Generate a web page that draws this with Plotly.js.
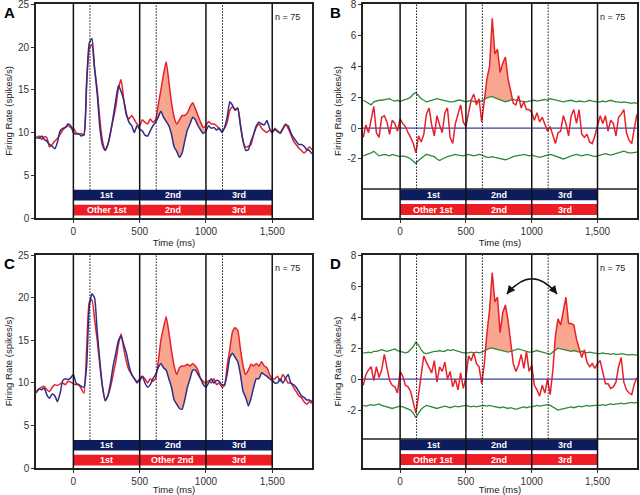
<!DOCTYPE html>
<html>
<head>
<meta charset="utf-8">
<script src="https://cdn.plot.ly/plotly-3.0.1.min.js"></script>
<style>
  html, body { margin: 0; padding: 0; background: #fff; }
  #fig { width: 640px; height: 495px; }
</style>
</head>
<body>
<div id="fig"></div>
<script>
// time base in ms, 20 ms bins from -280 to 1800
const timeMs = [];
for (let v = -280; v <= 1800; v += 20) timeMs.push(v);

const epochStart = [0, 500, 1000];
const epochEnd = [500, 1000, 1500];
const cueTimes = [125, 625, 1125];
const xTickVals = [0, 500, 1000, 1500];
const xTickText = ['0', '500', '1000', '1,500'];
const topBarLabels = ['1st', '2nd', '3rd'];
const bottomBarLabelsA = ['Other 1st', '2nd', '3rd'];
const bottomBarLabelsC = ['1st', 'Other 2nd', '3rd'];

// A: firing rate, red = other 1st, blue = 1st
const aRed = [
  9.3, 9.6, 9.2, 9.5, 9.4, 8.3, 8.6, 9.0, 9.3, 9.8, 10.3, 10.6, 10.8, 10.6, 10.5,
  10.0, 9.8, 9.9, 9.7, 15.5, 19.8, 20.3, 17.5, 15.0, 11.5, 9.0, 8.0, 8.6, 10.0, 11.5, 13.0, 15.2, 16.2, 13.8, 12.0, 11.6, 12.0, 11.5, 11.0, 10.8,
  11.5, 11.2, 11.0, 11.6, 11.2, 11.5, 13.2, 15.0, 16.8, 18.3, 16.0, 13.5, 11.8, 11.0, 11.5, 12.0, 12.0, 12.3, 13.0, 13.5, 12.8, 12.0, 11.2, 10.6, 10.8,
  11.3, 11.0, 11.0, 10.8, 10.5, 10.2, 10.5, 11.2, 12.6, 13.0, 12.7, 12.9, 11.0, 9.0, 8.3, 8.4, 8.6, 9.8, 10.6, 11.0, 10.5, 10.2, 10.0, 10.3, 10.0,
  10.5, 10.2, 10.0, 10.5, 11.0, 10.5, 9.8, 9.0, 8.6, 8.2, 7.9, 7.6, 7.9, 8.3, 8.0
];
const aBlue = [
  9.5, 9.3, 9.6, 9.2, 9.0, 8.6, 8.4, 8.1, 8.9, 10.2, 10.5, 10.6, 11.0, 10.8, 10.0,
  9.8, 9.9, 9.6, 9.8, 16.0, 20.5, 21.0, 17.5, 14.5, 10.5, 8.5, 7.9, 8.6, 10.0, 11.8, 13.8, 15.5, 14.8, 13.8, 12.2, 11.2, 10.8, 10.0, 10.8, 10.4,
  10.2, 9.7, 9.6, 10.2, 10.8, 11.2, 11.8, 12.5, 11.8, 11.3, 10.8, 9.8, 8.3, 7.8, 7.1, 7.6, 9.0, 10.3, 11.0, 11.8, 11.5, 10.8, 10.3, 9.9, 10.2,
  10.8, 10.5, 10.6, 10.3, 10.5, 10.0, 10.6, 11.8, 13.6, 13.2, 12.6, 12.8, 10.8, 9.0, 7.9, 8.0, 9.0, 9.8, 10.8, 11.2, 11.0, 10.9, 11.4, 10.5, 10.0,
  10.4, 10.1, 9.9, 10.4, 10.9, 10.8, 10.0, 9.4, 9.0, 8.6, 8.6, 8.4, 8.0, 7.9, 7.5
];

// B: difference with shuffled bounds
const bRed = [
  -0.6, 0.2, -0.3, 0.6, 1.4, -0.3, -0.6, 0.7, 0.8, 0.4, -0.4, 0.5, 0.3, -0.2, 0.6,
  0.3, 0.1, -0.3, -0.6, -1.0, -1.6, -0.5, -0.9, -0.4, 0.9, 1.3, 0.2, -0.5, 0.8, 0.2, -0.3, 1.0, 1.3, -0.6, -1.0, 0.3, 0.9, 1.5, 0.4, 0.1,
  1.0, 1.8, 2.2, 1.5, 1.9, 0.4, 1.8, 3.2, 4.0, 7.1, 4.8, 5.1, 3.6, 4.2, 4.6, 3.2, 2.4, 1.6, 1.5, 2.1, 1.3, 1.7, 1.2, 1.2, 1.0,
  0.5, 1.0, 0.4, 0.7, 0.3, -0.2, 0.1, -0.5, -1.0, -0.3, -0.2, 0.8, 0.3, -0.5, 0.8, 1.2, 0.3, 1.2, -0.4, -0.6, -0.4, -0.9, -1.0, -0.5, 0.2,
  0.8, 0.3, 0.8, -0.2, 0.5, 0.3, -0.5, 0.7, 0.9, 1.2, -0.3, -0.8, -1.0, 0.0, 0.9
];
const bUpper = [
  1.8, 1.7, 1.6, 1.5, 1.7, 1.75, 1.8, 1.8, 1.85, 1.9, 1.9, 1.8, 1.75, 1.8, 1.7,
  1.8, 1.85, 1.9, 2.0, 2.2, 2.3, 2.1, 1.9, 1.8, 1.7, 1.75, 1.8, 1.8, 1.9, 1.85, 1.8, 1.8, 1.75, 1.7, 1.7, 1.75, 1.8, 1.8, 1.75, 1.7,
  1.75, 1.8, 1.7, 1.75, 1.7, 1.75, 1.85, 1.95, 2.0, 2.05, 1.95, 1.9, 1.85, 1.75, 1.7, 1.75, 1.8, 1.85, 1.8, 1.8, 1.75, 1.7, 1.7, 1.75, 1.8,
  1.8, 1.75, 1.8, 1.8, 1.85, 1.8, 1.9, 1.85, 1.8, 1.8, 1.75, 1.7, 1.75, 1.8, 1.8, 1.75, 1.7, 1.75, 1.7, 1.7, 1.75, 1.8, 1.75, 1.7, 1.7,
  1.7, 1.75, 1.7, 1.75, 1.8, 1.75, 1.7, 1.7, 1.65, 1.7, 1.65, 1.6, 1.6, 1.65, 1.6
];
const bLower = [
  -1.8, -1.75, -1.7, -1.6, -1.5, -1.65, -1.8, -1.75, -1.7, -1.75, -1.8, -1.7, -1.75, -1.8, -1.85,
  -1.8, -1.85, -1.9, -2.0, -2.15, -2.3, -2.1, -1.95, -1.8, -1.7, -1.75, -1.8, -1.85, -2.0, -2.1, -2.0, -1.9, -1.85, -1.8, -1.75, -1.7, -1.75, -1.8, -1.8, -1.75,
  -1.7, -1.75, -1.8, -1.75, -1.7, -1.75, -1.85, -1.9, -1.9, -1.85, -1.9, -1.95, -2.0, -2.0, -2.05, -2.0, -1.9, -1.85, -1.8, -1.75, -1.75, -1.7, -1.75, -1.8, -1.75,
  -1.8, -1.85, -1.9, -1.85, -1.8, -1.75, -1.7, -1.75, -1.8, -1.85, -1.9, -2.0, -1.95, -1.85, -1.8, -1.75, -1.7, -1.75, -1.8, -1.75, -1.7, -1.75, -1.8, -1.85, -1.8,
  -1.75, -1.7, -1.65, -1.7, -1.75, -1.7, -1.65, -1.6, -1.55, -1.5, -1.55, -1.6, -1.6, -1.55, -1.55
];

// C: firing rate, red = other 2nd, blue = 2nd
const cRed = [
  8.8, 9.3, 9.5, 9.6, 9.2, 9.0, 9.5, 9.8, 9.7, 9.9, 10.0, 9.8, 10.2, 10.1, 9.9,
  9.8, 9.8, 9.3, 8.8, 14.0, 19.5, 19.8, 17.5, 15.0, 12.0, 9.5, 8.0, 8.5, 9.5, 11.0, 12.5, 14.5, 15.8, 14.0, 12.5, 11.5, 11.0, 10.5, 10.2, 10.2,
  10.8, 10.5, 10.0, 10.5, 10.2, 10.5, 12.5, 15.0, 16.5, 17.8, 16.0, 13.8, 12.0, 11.0, 11.8, 12.0, 12.0, 12.2, 12.0, 12.3, 12.0, 11.5, 10.5, 10.2, 10.0,
  10.3, 10.0, 10.5, 9.8, 10.0, 9.5, 9.7, 12.0, 14.0, 16.0, 16.5, 16.2, 14.0, 12.0, 11.0, 11.5, 12.2, 12.0, 12.3, 12.0, 12.5, 12.0, 11.8, 11.0, 10.5,
  10.5, 10.8, 10.2, 11.0, 10.5, 10.0, 10.0, 9.5, 9.0, 8.5, 8.3, 7.8, 7.5, 7.8, 7.6
];
const cBlue = [
  9.0, 9.3, 9.2, 9.4, 8.6, 8.2, 8.7, 8.5, 7.8, 8.8, 10.3, 10.5, 10.4, 10.6, 11.0,
  10.0, 9.8, 9.6, 9.5, 12.0, 19.0, 20.5, 20.0, 16.0, 12.5, 9.5, 7.9, 8.5, 10.0, 12.0, 13.5, 15.0, 15.5, 14.5, 13.5, 12.0, 11.0, 10.5, 10.0, 10.5,
  10.8, 10.0, 9.5, 9.8, 10.5, 11.0, 11.8, 12.3, 11.8, 11.5, 10.5, 9.5, 8.0, 7.5, 7.0, 6.9, 8.0, 9.5, 10.5, 11.5, 11.5, 11.0, 10.5, 9.8, 9.5,
  10.0, 10.5, 10.0, 10.3, 10.2, 9.8, 9.8, 11.0, 13.0, 13.5, 13.0, 12.5, 11.0, 9.0, 8.3, 7.3, 8.2, 9.5, 10.5, 10.5, 11.2, 11.0, 10.8, 10.5, 10.3,
  10.0, 10.0, 10.5, 10.0, 10.5, 11.0, 10.0, 9.8, 9.5, 9.0, 8.5, 8.3, 8.0, 8.0, 7.8
];

// D: difference with shuffled bounds
const dRed = [
  -0.4, 0.3, 0.6, 0.8, -0.1, 0.8, 0.1, 0.6, 1.6, 0.7, -0.1, -0.4, -0.5, -0.9, 0.5,
  0.2, -0.4, -0.5, -0.8, -1.5, -2.2, -1.0, 0.3, 1.5, 1.1, 0.7, 0.4, 1.2, -0.2, 0.8, 0.5, 1.1, 0.0, 0.5, -0.5, 0.0, -0.7, 0.4, -0.6, 0.1,
  1.5, 1.2, 1.7, 1.0, 0.8, -0.3, 1.0, 3.0, 4.5, 6.9, 5.0, 5.3, 3.0, 4.3, 4.8, 3.8, 2.2, 1.0, 0.5, 0.9, 1.6, 0.7, 1.8, 0.5, 0.9,
  -0.4, -0.7, -1.1, -0.4, -0.9, 0.0, -1.0, 0.5, 2.8, 3.9, 3.5, 4.4, 5.3, 3.6, 3.6, 3.5, 2.6, 2.0, 1.4, 1.9, 1.1, 0.8, 1.0, 0.7, 1.0,
  1.2, 0.5, -0.3, -0.3, -0.6, -0.5, -0.2, 0.8, 1.4, -0.2, -0.7, -0.9, -1.0, -0.3, 0.1
];
const dUpper = [
  1.7, 1.7, 1.75, 1.7, 1.8, 1.8, 1.85, 1.9, 1.85, 1.8, 1.85, 1.9, 1.95, 1.85, 1.8,
  1.7, 1.7, 1.75, 1.9, 2.1, 2.4, 2.2, 1.9, 1.7, 1.65, 1.7, 1.75, 1.8, 1.8, 1.85, 1.8, 1.8, 1.9, 1.85, 1.9, 1.85, 1.8, 1.75, 1.7, 1.7,
  1.7, 1.75, 1.7, 1.75, 1.7, 1.75, 1.85, 1.95, 2.0, 2.0, 1.95, 1.9, 1.85, 1.8, 1.75, 1.75, 1.8, 1.85, 1.9, 1.95, 1.9, 1.85, 1.8, 1.75, 1.75,
  1.8, 1.85, 1.8, 1.75, 1.7, 1.65, 1.6, 1.75, 1.9, 2.0, 1.95, 1.9, 1.85, 1.8, 1.8, 1.85, 1.8, 1.75, 1.8, 1.75, 1.7, 1.75, 1.7, 1.7, 1.65,
  1.65, 1.7, 1.65, 1.65, 1.6, 1.65, 1.6, 1.6, 1.65, 1.6, 1.6, 1.55, 1.6, 1.55, 1.55
];
const dLower = [
  -1.7, -1.75, -1.7, -1.65, -1.7, -1.65, -1.6, -1.7, -1.75, -1.8, -1.85, -1.9, -1.85, -1.8, -1.75,
  -1.8, -1.85, -1.9, -2.0, -2.2, -2.5, -2.2, -1.95, -1.8, -1.7, -1.75, -1.8, -1.85, -1.9, -1.85, -1.8, -1.75, -1.8, -1.85, -1.8, -1.75, -1.8, -1.75, -1.7, -1.7,
  -1.75, -1.8, -1.75, -1.8, -1.75, -1.7, -1.7, -1.75, -1.7, -1.75, -1.8, -1.8, -1.85, -1.8, -1.85, -1.9, -1.85, -1.9, -1.95, -1.9, -1.85, -1.8, -1.85, -1.8, -1.8,
  -1.75, -1.7, -1.75, -1.7, -1.7, -1.65, -1.7, -1.8, -1.9, -2.0, -1.95, -1.9, -1.85, -1.8, -1.8, -1.85, -1.8, -1.75, -1.8, -1.75, -1.7, -1.75, -1.7, -1.7, -1.7,
  -1.7, -1.65, -1.7, -1.65, -1.6, -1.65, -1.6, -1.6, -1.55, -1.6, -1.55, -1.55, -1.5, -1.55, -1.5
];

const FONT = 'Liberation Sans, Arial, Helvetica, sans-serif';
const RED = '#e8202a', NAVY = '#2b2f86', FILL = '#f8a690', GREEN = '#2f8a38';
const BAR_NAVY = '#0c1c5c', BAR_RED = '#ee1d25';

const traces = [], shapes = [], annotations = [];

// polygon between top and base where top > base, inside [t0, t1]
function shadePoly(top, base, t0, t1) {
  const xs = [], up = [], lo = [];
  for (let i = 0; i < timeMs.length; i++) {
    if (timeMs[i] < t0 || timeMs[i] > t1) continue;
    const d0 = top[i] - base[i];
    xs.push(timeMs[i]); up.push(Math.max(top[i], base[i])); lo.push(base[i]);
    if (i + 1 < timeMs.length && timeMs[i + 1] <= t1) {
      const d1 = top[i + 1] - base[i + 1];
      if (d0 * d1 < 0) {
        const f = d0 / (d0 - d1);
        const b = base[i] + f * (base[i + 1] - base[i]);
        xs.push(timeMs[i] + f * (timeMs[i + 1] - timeMs[i])); up.push(b); lo.push(b);
      }
    }
  }
  return {x: xs.concat(xs.slice().reverse()), y: up.concat(lo.slice().reverse())};
}

const panels = [
  {n: '', letter: 'A', kind: 'rate', red: aRed, blue: aBlue, shade: [[620, 1000]],
   bottom: bottomBarLabelsA, xdom: [36 / 640, 312 / 640], ydom: [277 / 495, 491 / 495], yr: [0, 25.05]},
  {n: '2', letter: 'B', kind: 'diff', red: bRed, upper: bUpper, lower: bLower, shade: [[630, 870]],
   bottom: bottomBarLabelsA, xdom: [363 / 640, 637 / 640], ydom: [277 / 495, 491 / 495], yr: [-5.82, 8.03]},
  {n: '3', letter: 'C', kind: 'rate', red: cRed, blue: cBlue, shade: [[620, 1000], [1130, 1500]],
   bottom: bottomBarLabelsC, xdom: [36 / 640, 312 / 640], ydom: [27 / 495, 240 / 495], yr: [0, 25.05]},
  {n: '4', letter: 'D', kind: 'diff', red: dRed, upper: dUpper, lower: dLower, shade: [[630, 870], [1140, 1390]],
   bottom: bottomBarLabelsA, xdom: [363 / 640, 637 / 640], ydom: [27 / 495, 240 / 495], yr: [-5.75, 8.03]}
];

const layout = {
  width: 640, height: 495,
  margin: {l: 0, r: 0, t: 0, b: 0},
  paper_bgcolor: '#fff', plot_bgcolor: '#fff',
  showlegend: false,
  font: {family: FONT, size: 10, color: '#222'},
  shapes: shapes, annotations: annotations
};

panels.forEach(p => {
  const xa = 'x' + p.n, ya = 'y' + p.n;
  const base = p.kind === 'rate' ? p.blue : p.upper;
  const rate = p.kind === 'rate';

  // shaded difference
  p.shade.forEach(w => {
    const poly = shadePoly(p.red, base, w[0], w[1]);
    traces.push({x: poly.x, y: poly.y, xaxis: xa, yaxis: ya, type: 'scatter', mode: 'lines',
      fill: 'toself', fillcolor: FILL, line: {width: 0}, hoverinfo: 'skip'});
  });

  if (rate) {
    traces.push({x: timeMs, y: p.red, xaxis: xa, yaxis: ya, type: 'scatter', mode: 'lines',
      line: {color: RED, width: 1.5, shape: 'spline', smoothing: 0.5}});
    traces.push({x: timeMs, y: p.blue, xaxis: xa, yaxis: ya, type: 'scatter', mode: 'lines',
      line: {color: NAVY, width: 1.5, shape: 'spline', smoothing: 0.5}});
  } else {
    traces.push({x: timeMs, y: p.upper, xaxis: xa, yaxis: ya, type: 'scatter', mode: 'lines',
      line: {color: GREEN, width: 1.3}});
    traces.push({x: timeMs, y: p.lower, xaxis: xa, yaxis: ya, type: 'scatter', mode: 'lines',
      line: {color: GREEN, width: 1.3}});
    traces.push({x: timeMs, y: p.red, xaxis: xa, yaxis: ya, type: 'scatter', mode: 'lines',
      line: {color: RED, width: 1.5}});
    // zero line
    shapes.push({type: 'line', xref: xa + ' domain', yref: ya, x0: 0, x1: 1, y0: 0, y1: 0,
      layer: 'below', line: {color: '#3444a4', width: 1.2}});
  }

  // epoch bars
  const navyBand = rate ? [2.05, 3.3] : [p.yr[0] + 1.15, p.yr[0] + 1.85];
  const redBand = rate ? [0.3, 1.55] : [p.yr[0] + 0.2, p.yr[0] + 0.9];
  const barTop = rate ? navyBand[1] : navyBand[1] + 0.03;
  epochStart.forEach((s, i) => {
    const e = epochEnd[i];
    shapes.push({type: 'rect', xref: xa, yref: ya, x0: s, x1: e, y0: navyBand[0], y1: navyBand[1],
      fillcolor: BAR_NAVY, line: {width: 0}});
    shapes.push({type: 'rect', xref: xa, yref: ya, x0: s, x1: e, y0: redBand[0], y1: redBand[1],
      fillcolor: BAR_RED, line: {width: 0}});
    annotations.push({xref: xa, yref: ya, x: (s + e) / 2, y: (navyBand[0] + navyBand[1]) / 2,
      text: topBarLabels[i], showarrow: false, font: {color: '#fff', size: 9, family: FONT, weight: 'bold'}});
    annotations.push({xref: xa, yref: ya, x: (s + e) / 2, y: (redBand[0] + redBand[1]) / 2,
      text: p.bottom[i], showarrow: false, font: {color: '#fff', size: 9, family: FONT, weight: 'bold'}});
  });

  if (!rate) {
    shapes.push({type: 'line', xref: xa + ' domain', yref: ya, x0: 0, x1: 1, y0: barTop, y1: barTop,
      line: {color: '#222', width: 1.4}});
  }

  // cue (dotted) and epoch (solid) markers
  cueTimes.forEach(c => shapes.push({type: 'line', xref: xa, yref: ya, x0: c, x1: c, y0: barTop, y1: p.yr[1],
    line: {color: '#111', width: 1, dash: '1.5px,1.5px'}}));
  xTickVals.forEach(v => shapes.push({type: 'line', xref: xa, yref: ya + ' domain', x0: v, x1: v, y0: 0, y1: 1,
    line: {color: '#111', width: 1.5}}));

  layout['xaxis' + p.n] = {
    domain: p.xdom, anchor: ya, range: [-282, 1800],
    tickvals: xTickVals, ticktext: xTickText,
    ticks: 'outside', ticklen: 3, tickcolor: '#333', tickwidth: 1,
    showline: true, mirror: true, linecolor: '#222', linewidth: 1.8,
    showgrid: false, zeroline: false, ticklabeloverflow: 'allow',
    tickfont: {size: 10, color: '#333'},
    title: {text: 'Time (ms)', font: {size: 9.5, color: '#222'}, standoff: 3}
  };
  const yt = rate ? [0, 5, 10, 15, 20, 25] : [-2, 0, 2, 4, 6, 8];
  layout['yaxis' + p.n] = {
    domain: p.ydom, anchor: xa, range: p.yr,
    tickvals: yt, ticktext: yt.map(String),
    ticks: 'outside', ticklen: 3, tickcolor: '#333', tickwidth: 1,
    showline: true, mirror: true, linecolor: '#222', linewidth: 1.8,
    showgrid: false, zeroline: false, ticklabeloverflow: 'allow',
    tickfont: {size: 10, color: '#333'},
    title: {text: 'Firing Rate (spikes/s)', font: {size: 9.5, color: '#222'}, standoff: 4}
  };

  // panel letter and n
  const left = p.xdom[0] < 0.5 ? 2 / 640 : 328 / 640;
  annotations.push({xref: 'paper', yref: 'paper', x: left, y: p.ydom[1] + 0.004, xanchor: 'left', yanchor: 'top',
    text: '<b>' + p.letter + '</b>', showarrow: false, font: {size: 15, color: '#000', family: FONT}});
  annotations.push({xref: xa + ' domain', yref: ya + ' domain', x: 0.965, y: 0.94, xanchor: 'right', yanchor: 'middle',
    text: 'n = 75', showarrow: false, font: {size: 9, color: '#222', family: FONT}});
});

// D: curved double arrow between the two responses
shapes.push({type: 'path', xref: 'x4', yref: 'y4', path: 'M 811,5.5 Q 1002,7.5 1193,5.5',
  line: {color: '#111', width: 1.5}});
annotations.push({xref: 'x4', yref: 'y4', axref: 'x4', ayref: 'y4', x: 811, y: 5.5, ax: 849, ay: 5.9,
  text: '', showarrow: true, arrowhead: 2, arrowsize: 1.1, arrowwidth: 1.5, arrowcolor: '#111'});
annotations.push({xref: 'x4', yref: 'y4', axref: 'x4', ayref: 'y4', x: 1193, y: 5.5, ax: 1155, ay: 5.9,
  text: '', showarrow: true, arrowhead: 2, arrowsize: 1.1, arrowwidth: 1.5, arrowcolor: '#111'});

Plotly.newPlot('fig', traces, layout, {displayModeBar: false, staticPlot: true});
</script>
</body>
</html>
